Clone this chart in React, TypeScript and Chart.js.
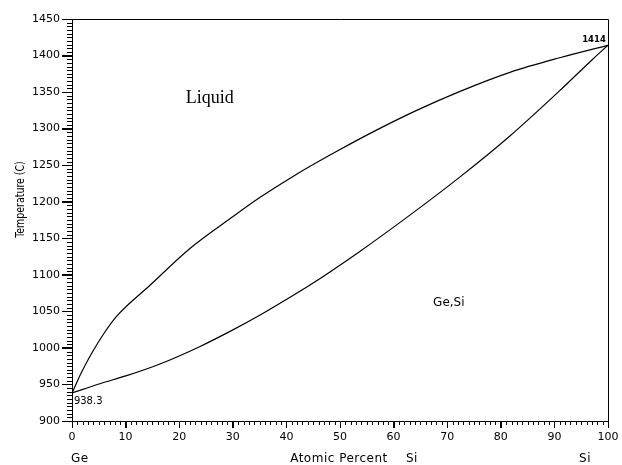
import React, { useEffect, useRef } from "react";
import { Chart, registerables } from "chart.js";

Chart.register(...registerables);

// Liquidus (upper curve): atomic % Si vs temperature (C)
const liquidusX = [0, 1.8, 3.7, 5.8, 8.3, 14.6, 22, 30.1, 35.1, 41.3, 49.4, 56.8, 64.3, 72.4, 81.7, 91, 100];
const liquidusT = [938.3, 967, 993, 1018, 1043, 1086, 1136, 1180, 1206, 1235, 1269, 1298, 1325, 1351, 1377, 1397, 1414];

// Solidus (lower curve)
const solidusX = [0, 5.2, 10.2, 16.4, 23.9, 30.1, 35.1, 38.8, 44.4, 53.7, 63.1, 72.4, 81.7, 91, 97.3, 100];
const solidusT = [938.3, 951, 962, 978, 1002, 1025, 1045, 1061, 1086, 1132, 1182, 1234, 1290, 1352, 1396, 1414];

// Axis settings
const xMin = 0, xMax = 100, xMajor = 10, xMinor = 1;
const yMin = 900, yMax = 1450, yMajor = 50, yMinor = 5;

const yTitle = "Temperature (C)";
const xLabels = [
  { text: "Ge", x: -0.2 },
  { text: "Atomic Percent", x: 40.7 },
  { text: "Si", x: 62.3 },
  { text: "Si", x: 94.6 },
];
const meltGe = 938.3;
const meltSi = 1414;

const FONT = "'DejaVu Sans', sans-serif";

const decorPlugin = {
  id: "decor",
  afterDraw(chart: any) {
    const { ctx, chartArea: a, scales } = chart;
    const xs = scales.x;
    const ys = scales.y;
    ctx.save();
    ctx.strokeStyle = "#000";
    ctx.lineWidth = 1;
    // top & right border of plot box
    ctx.beginPath();
    ctx.moveTo(Math.round(a.left), Math.round(a.top) + 0.5);
    ctx.lineTo(Math.round(a.right) + 0.5, Math.round(a.top) + 0.5);
    ctx.lineTo(Math.round(a.right) + 0.5, Math.round(a.bottom));
    ctx.stroke();
    // minor + major ticks
    const L = Math.round(a.left);
    const B = Math.round(a.bottom);
    ctx.beginPath();
    for (let v = yMin; v <= yMax; v += yMinor) {
      const major = v % yMajor === 0;
      const p = Math.round(ys.getPixelForValue(v)) + 0.5;
      ctx.moveTo(L - (major ? 10 : 5), p);
      ctx.lineTo(L, p);
    }
    for (let v = xMin; v <= xMax; v += xMinor) {
      const major = v % xMajor === 0;
      const p = Math.round(xs.getPixelForValue(v)) + 0.5;
      ctx.moveTo(p, B);
      ctx.lineTo(p, B + (major ? 7 : 4));
    }
    ctx.stroke();

    ctx.fillStyle = "#000";
    // Liquid label
    ctx.font = "18px 'Liberation Serif', serif";
    ctx.textAlign = "center";
    ctx.textBaseline = "middle";
    ctx.fillText("Liquid", xs.getPixelForValue(25.7), ys.getPixelForValue(1342));
    // Ge,Si label
    ctx.font = `12px ${FONT}`;
    ctx.fillText("Ge,Si", xs.getPixelForValue(70.3), ys.getPixelForValue(1061));
    // melting points
    ctx.font = `bold 8.5px ${FONT}`;
    ctx.textAlign = "right";
    ctx.textBaseline = "bottom";
    ctx.fillText(String(meltSi), xs.getPixelForValue(99.6), ys.getPixelForValue(meltSi) - 1);
    ctx.font = `10px ${FONT}`;
    ctx.textAlign = "left";
    ctx.textBaseline = "top";
    ctx.fillText(String(meltGe), xs.getPixelForValue(0.35), ys.getPixelForValue(meltGe) + 3);
    // x-axis labels
    ctx.font = `12px ${FONT}`;
    ctx.textBaseline = "alphabetic";
    (ctx as any).letterSpacing = "0.5px";
    for (const l of xLabels) {
      ctx.fillText(l.text, xs.getPixelForValue(l.x), a.bottom + 41);
    }
    (ctx as any).letterSpacing = "0px";
    // y title
    ctx.font = `11.5px ${FONT}`;
    ctx.translate(21.5, ys.getPixelForValue(1203));
    ctx.rotate(-Math.PI / 2);
    ctx.scale(0.82, 1);
    ctx.textAlign = "center";
    ctx.textBaseline = "middle";
    ctx.fillText(yTitle, 0, 0);
    ctx.restore();
  },
};

export default function App() {
  const ref = useRef<HTMLCanvasElement>(null);
  useEffect(() => {
    if (!ref.current) return;
    const liq = liquidusX.map((x, i) => ({ x, y: liquidusT[i] }));
    const sol = solidusX.map((x, i) => ({ x, y: solidusT[i] }));
    const chart = new Chart(ref.current, {
      type: "scatter",
      data: {
        datasets: [
          {
            label: "Liquidus",
            data: liq,
            showLine: true,
            borderColor: "#000",
            borderWidth: 1.2,
            pointRadius: 0,
            cubicInterpolationMode: "monotone",
          },
          {
            label: "Solidus",
            data: sol,
            showLine: true,
            borderColor: "#000",
            borderWidth: 1.2,
            pointRadius: 0,
            cubicInterpolationMode: "monotone",
          },
        ],
      },
      options: {
        animation: false,
        responsive: false,
        devicePixelRatio: 1,
        layout: { padding: { top: 19, right: 14, left: 0, bottom: 0 } },
        plugins: { legend: { display: false }, tooltip: { enabled: false } },
        scales: {
          x: {
            type: "linear",
            min: xMin,
            max: xMax,
            afterFit: (s: any) => {
              s.height = 44;
            },
            border: { display: true, color: "#000", width: 1 },
            grid: { drawOnChartArea: false, drawTicks: true, tickLength: 7, color: "#000" },
            ticks: {
              stepSize: xMajor,
              padding: 3,
              color: "#000",
              font: { family: FONT, size: 11 },
              maxRotation: 0,
              callback: (v: any) => String(v),
            },
          },
          y: {
            type: "linear",
            min: yMin,
            max: yMax,
            afterFit: (s: any) => {
              s.width = 72;
            },
            border: { display: true, color: "#000", width: 1 },
            grid: { drawOnChartArea: false, drawTicks: true, tickLength: 10, color: "#000" },
            ticks: {
              stepSize: yMajor,
              padding: 2,
              color: "#000",
              font: { family: FONT, size: 11 },
              callback: (v: any) => String(v),
            },
          },
        },
      },
      plugins: [decorPlugin],
    } as any);
    return () => chart.destroy();
  }, []);
  return (
    <div style={{ position: "absolute", left: 0, top: 0, width: 622, height: 465, background: "#fff" }}>
      <canvas ref={ref} width={622} height={465} style={{ display: "block" }} />
    </div>
  );
}
